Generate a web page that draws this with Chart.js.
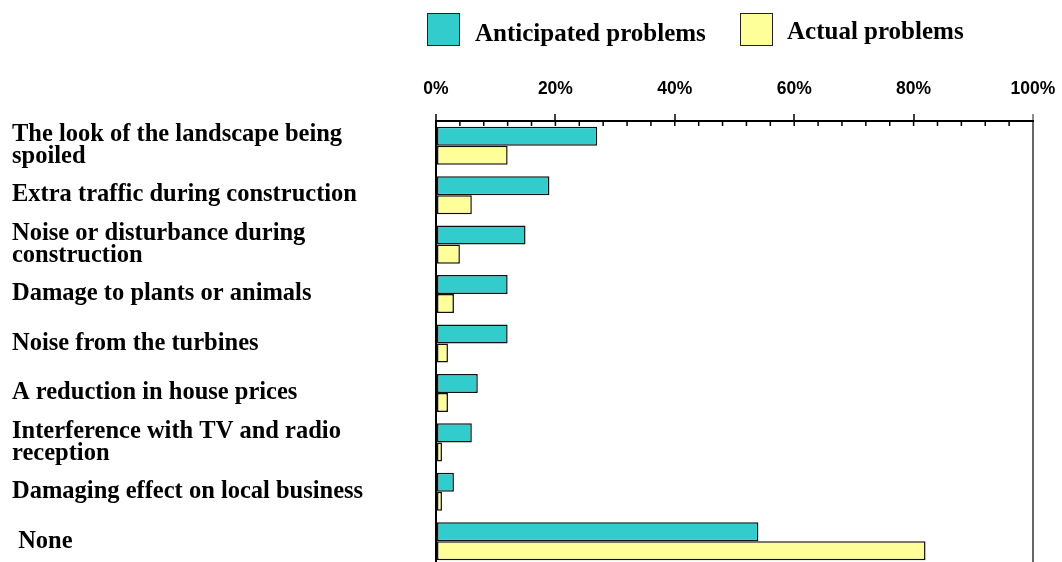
<!DOCTYPE html>
<html>
<head>
<meta charset="utf-8">
<script src="https://cdn.jsdelivr.net/npm/chart.js@4"></script>
<style>
    html, body { margin: 0; padding: 0; background: #fff; overflow: hidden; }
    .wrap { position: relative; width: 1062px; height: 566px; }
    .legend { position: absolute; top: 0; left: 0; font-family: "Liberation Serif", "Times New Roman", serif; font-weight: bold; font-size: 25px; color: #000; }
    .legend .box { position: absolute; width: 31px; height: 31px; border: 1.5px solid #222; }
    .legend .txt { position: absolute; white-space: nowrap; line-height: 25px; }
</style>
</head>
<body>
<div class="wrap">
    <canvas id="problemsChart"></canvas>
    <div class="legend" id="legend"></div>
</div>
<script>
var categories = [
    ["The look of the landscape being", "spoiled"],
    "Extra traffic during construction",
    ["Noise or disturbance during", "construction"],
    "Damage to plants or animals",
    "Noise from the turbines",
    "A reduction in house prices",
    ["Interference with TV and radio", "reception"],
    "Damaging effect on local business",
    " None"
];
var seriesNames = ["Anticipated problems", "Actual problems"];
var anticipated = [27, 19, 15, 12, 12, 7, 6, 3, 54];
var actual = [12, 6, 4, 3, 2, 2, 1, 1, 82];
var tickValues = [0, 20, 40, 60, 80, 100];
var colors = ["#33CCCC", "#FFFF99"];

// small ticks every 4% under the top axis line
var minorTicks = {
    id: 'minorTicks',
    afterDraw: function(chart) {
        var sc = chart.scales.x;
        var ctx = chart.ctx;
        ctx.save();
        ctx.strokeStyle = '#000';
        ctx.lineWidth = 1.5;
        for (var v = 4; v < 100; v += 4) {
            var px = sc.getPixelForValue(v);
            ctx.beginPath();
            ctx.moveTo(px, sc.bottom);
            ctx.lineTo(px, sc.bottom + 5);
            ctx.stroke();
        }
        ctx.restore();
    }
};

var ctx = document.getElementById('problemsChart').getContext('2d');
var chart = new Chart(ctx, {
    type: 'bar',
    data: {
        labels: categories,
        datasets: [{
            label: seriesNames[0],
            data: anticipated,
            backgroundColor: colors[0],
            borderColor: '#111',
            borderWidth: 1.5,
            borderSkipped: false
        }, {
            label: seriesNames[1],
            data: actual,
            backgroundColor: colors[1],
            borderColor: '#111',
            borderWidth: 1.5,
            borderSkipped: false
        }]
    },
    options: {
        indexAxis: 'y',
        responsive: true,
        maintainAspectRatio: false,
        animation: false,
        layout: { padding: { left: 12, right: 29, top: 0, bottom: 0 } },
        datasets: { bar: { categoryPercentage: 0.77, barPercentage: 1.0 } },
        plugins: {
            legend: { display: false },
            tooltip: { enabled: false }
        },
        scales: {
            x: {
                position: 'top',
                min: 0,
                max: 100,
                afterFit: function(s) { s.height = 121; s.paddingLeft = 0; s.paddingRight = 0; },
                afterBuildTicks: function(s) {
                    s.ticks = tickValues.map(function(v) { return { value: v }; });
                },
                ticks: {
                    callback: function(v) { return v + '%'; },
                    font: { family: "'Liberation Sans', Arial, sans-serif", weight: 'bold', size: 17.5 },
                    color: '#000',
                    padding: 14,
                    maxRotation: 0
                },
                grid: {
                    drawOnChartArea: true,
                    tickLength: 7,
                    tickWidth: 1.5,
                    lineWidth: 2,
                    color: function(c) { return c.tick && c.tick.value === 100 ? '#666' : 'rgba(0,0,0,0)'; },
                    tickColor: function(c) { return c.tick && c.tick.value === 100 ? '#666' : '#000'; }
                },
                border: { display: true, color: '#000', width: 2 }
            },
            y: {
                afterFit: function(s) { s.width = 424; s.paddingTop = 0; s.paddingBottom = 0; },
                ticks: {
                    crossAlign: 'far',
                    font: { family: "'Liberation Serif', 'Times New Roman', serif", weight: 'bold', size: 24.5, lineHeight: 0.9 },
                    color: '#000',
                    padding: 0
                },
                grid: { display: false, drawTicks: false },
                border: { display: true, color: '#000', width: 2 }
            }
        }
    },
    plugins: [minorTicks]
});

// legend built from the series names and colours
var legend = document.getElementById('legend');
var legendPos = [{ box: 427, txt: 475 }, { box: 740, txt: 787 }];
seriesNames.forEach(function(name, i) {
    var b = document.createElement('div');
    b.className = 'box';
    b.style.left = legendPos[i].box + 'px';
    b.style.top = '13px';
    b.style.background = colors[i];
    legend.appendChild(b);
    var t = document.createElement('div');
    t.className = 'txt';
    t.style.left = legendPos[i].txt + 'px';
    t.style.top = i === 0 ? '20px' : '18px';
    t.textContent = name;
    legend.appendChild(t);
});
</script>
</body>
</html>
